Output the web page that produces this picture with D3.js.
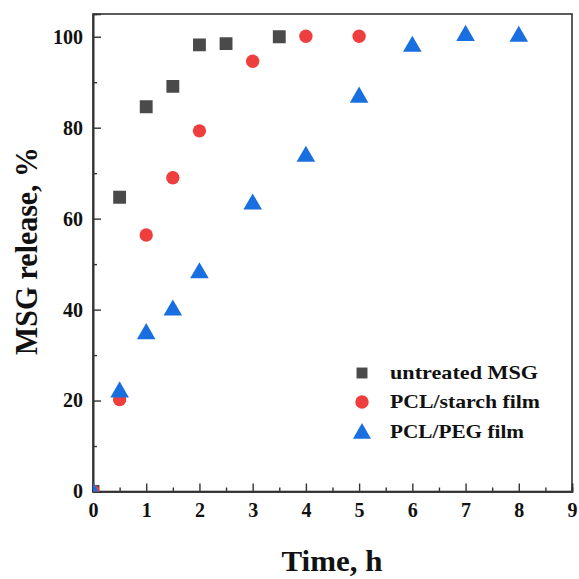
<!DOCTYPE html>
<html><head><meta charset="utf-8">
<script src="https://cdn.jsdelivr.net/npm/d3@7"></script>
<style>body{margin:0;background:#fff}svg{display:block}</style>
</head><body><svg id="c" width="579" height="579"></svg>
<script>
const seriesNames = ["untreated MSG", "PCL/starch film", "PCL/PEG film"];
const msgX = [0, 0.5, 1, 1.5, 2, 2.5, 3.5];
const msgY = [0, 64.7, 84.6, 89.1, 98.2, 98.5, 100];
const starchX = [0, 0.5, 1, 1.5, 2, 3, 4, 5];
const starchY = [0, 20.2, 56.4, 69.0, 79.3, 94.6, 100.1, 100.1];
const pegX = [0, 0.5, 1, 1.5, 2, 3, 4, 5, 6, 7, 8];
const pegY = [0, 22.2, 35.0, 40.2, 48.4, 63.5, 74.0, 87.0, 98.2, 100.6, 100.4];
const xTicks = [0,1,2,3,4,5,6,7,8,9];
const yTicks = [0,20,40,60,80,100];

const colors = ["#4a4a4a", "#ef3e3e", "#1a6fe0"];
const shapes = [d3.symbolSquare, d3.symbolCircle, d3.symbolTriangle];
const sizes = [165, 140, 150];

const svg = d3.select("#c");
const L = 93, R = 572, T = 14, B = 491.5;
const x = d3.scaleLinear().domain([0, 9]).range([L, R]);
const y = d3.scaleLinear().domain([0, 105]).range([B, T]);
const font = "'Liberation Serif','DejaVu Serif',serif";

// frame
svg.append("rect").attr("x", L).attr("y", T).attr("width", R - L).attr("height", B - T)
  .attr("fill", "none").attr("stroke", "#333").attr("stroke-width", 1.6);

// x axis
const xAx = svg.append("g").attr("transform", `translate(0,${B})`)
  .call(d3.axisBottom(x).tickValues(xTicks).tickSize(-8).tickPadding(11).tickFormat(d3.format("d")));
const xMin = svg.append("g").attr("transform", `translate(0,${B})`)
  .call(d3.axisBottom(x).tickValues(d3.range(0.5, 9, 1)).tickSize(-4).tickFormat(""));
// y axis
const yAx = svg.append("g").attr("transform", `translate(${L},0)`)
  .call(d3.axisLeft(y).tickValues(yTicks).tickSize(-8).tickPadding(10).tickFormat(d3.format("d")));
const yMin = svg.append("g").attr("transform", `translate(${L},0)`)
  .call(d3.axisLeft(y).tickValues([10,30,50,70,90]).tickSize(-4).tickFormat(""));
[xAx, xMin, yAx, yMin].forEach(g => {
  g.select(".domain").attr("stroke", "#333").attr("stroke-width", 1.6);
  g.selectAll("line").attr("stroke", "#333").attr("stroke-width", 1.4);
  g.selectAll("text").attr("font-family", font).attr("font-weight", "bold")
    .attr("font-size", 20).attr("fill", "#111");
});

// clip
svg.append("clipPath").attr("id", "clip").append("rect")
  .attr("x", L).attr("y", T).attr("width", R - L).attr("height", B - T);
const plot = svg.append("g").attr("clip-path", "url(#clip)");

const data = [
  msgX.map((v, i) => [v, msgY[i]]),
  starchX.map((v, i) => [v, starchY[i]]),
  pegX.map((v, i) => [v, pegY[i]])
];
data.forEach((pts, s) => {
  plot.selectAll(null).data(pts).enter().append("path")
    .attr("d", d3.symbol().type(shapes[s]).size(sizes[s]))
    .attr("transform", d => `translate(${x(d[0])},${y(d[1]) + (s === 2 ? 1.5 : 0)})`)
    .attr("fill", colors[s]);
});

// legend
const legY = [373, 402, 432];
const legW = [148, 150, 134];
seriesNames.forEach((n, i) => {
  svg.append("path").attr("d", d3.symbol().type(shapes[i]).size(i === 0 ? 120 : 140))
    .attr("transform", `translate(362,${legY[i] + (i === 2 ? 1.5 : 0)})`).attr("fill", colors[i]);
  svg.append("text").attr("x", 390).attr("y", legY[i] + 6).text(n)
    .attr("textLength", legW[i]).attr("lengthAdjust", "spacingAndGlyphs")
    .attr("font-family", font).attr("font-weight", "bold").attr("font-size", 19).attr("fill", "#111");
});

// axis titles
svg.append("text").attr("x", 332).attr("y", 571).attr("text-anchor", "middle").text("Time, h")
  .attr("textLength", 101).attr("lengthAdjust", "spacingAndGlyphs")
  .attr("font-family", font).attr("font-weight", "bold").attr("font-size", 29).attr("fill", "#111");
svg.append("text").attr("transform", "translate(37,251) rotate(-90)").attr("text-anchor", "middle")
  .text("MSG release, %")
  .attr("textLength", 208).attr("lengthAdjust", "spacingAndGlyphs")
  .attr("font-family", font).attr("font-weight", "bold").attr("font-size", 31).attr("fill", "#111");
</script></body></html>
